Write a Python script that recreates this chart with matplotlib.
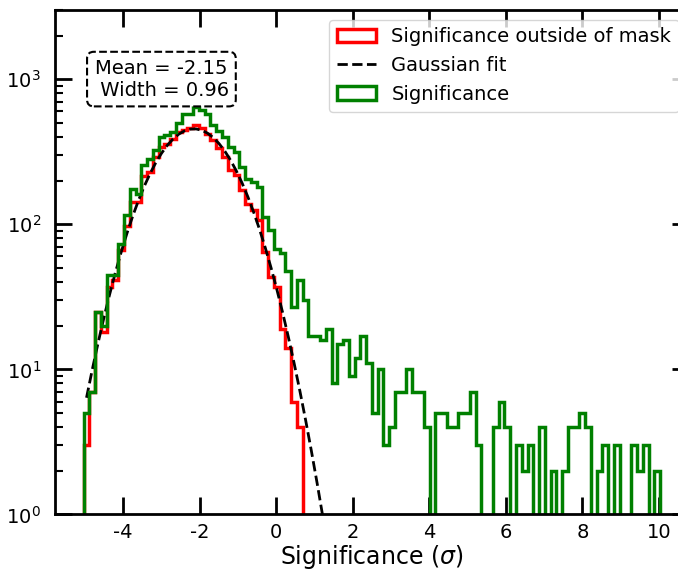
import numpy as np
import matplotlib
matplotlib.use('Agg')
import matplotlib.pyplot as plt

plt.rcParams['axes.unicode_minus'] = False

# histogram binning (100 bins over the significance range)
sig_min, sig_max, n_bins = -5.03, 10.03, 100

# counts per bin, all pixels
counts_all = [5, 7, 25, 20, 45, 45, 73, 115, 175, 163,
              255, 280, 325, 400, 410, 435, 500, 575, 580, 640,
              615, 575, 480, 440, 400, 340, 315, 250, 205, 195,
              182, 112, 92, 68, 63, 48, 27, 41, 30, 17,
              17, 16, 19, 8, 15, 16, 9, 12, 17, 11,
              5, 10, 3, 4, 7, 7, 10, 7, 7, 4,
              0, 5, 5, 4, 4, 5, 5, 7, 3, 0,
              0, 4, 6, 4, 0, 3, 2, 3, 0, 4,
              0, 2, 0, 2, 4, 4, 5, 4, 0, 2,
              3, 0, 3, 0, 0, 3, 2, 3, 0, 2]

# counts per bin, outside of mask
counts_out = [3, 7, 25, 18, 37, 41, 67, 97, 143, 143,
              215, 230, 290, 340, 360, 390, 430, 450, 460, 485,
              460, 420, 380, 335, 290, 235, 217, 171, 139, 125,
              107, 64, 43, 37, 19, 14, 6, 4] + [0]*62

# gaussian fit parameters
mean_fit = -2.15
width_fit = 0.96
amp_fit = 455.

edges = np.linspace(sig_min, sig_max, n_bins+1)
centers = 0.5*(edges[1:] + edges[:-1])

fig = plt.figure(figsize=(6.78, 5.7), dpi=100)
ax = fig.add_axes([0.081, 0.0974, 0.935, 0.8851])

ax.hist(centers, bins=edges, weights=counts_out, histtype='step', color='red',
        lw=2.5, log=True, label='Significance outside of mask')
gauss = amp_fit*np.exp(-(centers - mean_fit)**2/(2*width_fit**2))
ax.plot(centers, gauss, 'k--', lw=2, label='Gaussian fit')
ax.hist(centers, bins=edges, weights=counts_all, histtype='step', color='green',
        lw=2.5, log=True, label='Significance')

ax.set_yscale('log', nonpositive='clip')
ax.set_ylim(1, 3000)
ax.set_xlim(-5.78, 10.78)
ax.set_xticks(np.arange(-4, 11, 2))

ax.tick_params(which='both', direction='in', top=True, right=True)
ax.tick_params(which='major', length=12, width=2, labelsize=14)
ax.tick_params(which='minor', length=6, width=1.5)
ax.tick_params(axis='x', pad=6)
ax.tick_params(axis='y', pad=10)
for sp in ax.spines.values():
    sp.set_linewidth(2)

ax.set_xlabel('Significance ($\\sigma$)', fontsize=17, labelpad=1)

ax.text(0.168, 0.863, 'Mean = -2.15\n Width = 0.96', transform=ax.transAxes,
        ha='center', va='center', fontsize=14,
        bbox=dict(boxstyle='round,pad=0.35', facecolor='white', edgecolor='black',
                  linestyle='--', lw=1.5))

ax.legend(loc='upper right', fontsize=14)

fig.savefig('out.png', dpi=100)
